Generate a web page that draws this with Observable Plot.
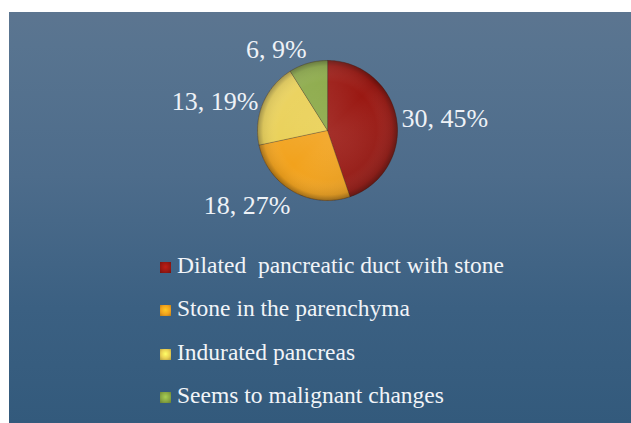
<!DOCTYPE html>
<html><head><meta charset="utf-8">
<script src="https://cdn.jsdelivr.net/npm/d3@7"></script>
<script src="https://cdn.jsdelivr.net/npm/@observablehq/plot@0.6"></script>
<style>
html,body{margin:0;padding:0;background:#fff;width:631px;height:423px;overflow:hidden}
#panel{position:absolute;left:9px;top:12px;width:622px;height:411px;
  background:linear-gradient(#5c7590 0%, #587490 8%, #4d6c8b 40%, #3b6082 72%, #335a7c 100%);}
#chart{position:absolute;left:0;top:0}
#legend{position:absolute;left:160px;top:244px;font-family:"Liberation Serif","Times New Roman",Times,"DejaVu Serif",serif;font-size:23.5px;line-height:43.3px;color:#f1f4f8;white-space:pre}
.sw{display:inline-block;width:11px;height:11px;margin-right:6px}
</style></head><body>
<div id="panel"></div>
<svg width="0" height="0" style="position:absolute">
  <defs>
    <radialGradient id="shade" cx="50%" cy="50%" r="50%">
      <stop offset="0%" stop-color="#fff" stop-opacity="0.10"/>
      <stop offset="70%" stop-color="#fff" stop-opacity="0"/>
      <stop offset="92%" stop-color="#000" stop-opacity="0.08"/>
      <stop offset="100%" stop-color="#000" stop-opacity="0.35"/>
    </radialGradient>
    <linearGradient id="light" x1="0" y1="0" x2="1" y2="1">
      <stop offset="0%" stop-color="#fff" stop-opacity="0.18"/>
      <stop offset="50%" stop-color="#fff" stop-opacity="0"/>
      <stop offset="100%" stop-color="#000" stop-opacity="0.18"/>
    </linearGradient>
  </defs>
</svg>
<div id="chart"></div>
<div id="legend"></div>
<script>
const categories = ["Dilated  pancreatic duct with stone", "Stone in the parenchyma", "Indurated pancreas", "Seems to malignant changes"];
const counts = [30, 18, 13, 6];
const percents = [45, 27, 19, 9];
const colors = ["#9a1812", "#f2a21c", "#e9cf52", "#88a743"];

const W = 631, H = 240, R = 70, cx = 327, cy = 130;
const serif = `"Liberation Serif","Times New Roman",Times,"DejaVu Serif",serif`;

// slice geometry from the data (clockwise from 12 o'clock)
const arcs = d3.pie().sort(null).value(d => d)(counts);
const pts = [];
arcs.forEach((a, i) => {
  const cat = categories[i];
  pts.push({cat, x: 0, y: 0});
  const n = Math.max(2, Math.ceil((a.endAngle - a.startAngle) / 0.02));
  for (let k = 0; k <= n; k++) {
    const t = a.startAngle + (a.endAngle - a.startAngle) * k / n;
    pts.push({cat, x: Math.sin(t), y: Math.cos(t)});
  }
});

// labels: nearest corner of the label touches a point just outside the rim
const gap = 75 / R;
const labels = arcs.map((a, i) => {
  const m = (a.startAngle + a.endAngle) / 2;
  const s = Math.sin(m), c = Math.cos(m);
  return {
    x: s * gap, y: c * gap,
    text: `${counts[i]}, ${percents[i]}%`,
    ta: Math.abs(s) < 0.2 ? "middle" : (s > 0 ? "start" : "end"),
    la: Math.abs(c) < 0.5 ? "middle" : (c > 0 ? "bottom" : "top")
  };
});

const chart = Plot.plot({
  width: W, height: H, margin: 0,
  x: {domain: [-cx / R, (W - cx) / R], axis: null},
  y: {domain: [-(H - cy) / R, cy / R], axis: null},
  color: {domain: categories, range: colors},
  style: {background: "transparent", overflow: "visible"},
  marks: [
    Plot.line(pts, {x: "x", y: "y", z: "cat", fill: "cat", stroke: "#3b1606", strokeOpacity: 0.35, strokeWidth: 1, curve: "linear-closed"}),
    Plot.dot([{x: 0, y: 0}], {x: "x", y: "y", r: R, fill: "url(#shade)", stroke: "none"}),
    Plot.dot([{x: 0, y: 0}], {x: "x", y: "y", r: R, fill: "url(#light)", stroke: "none"}),
    ...labels.map(l => Plot.text([l], {x: "x", y: "y", text: "text", textAnchor: l.ta, lineAnchor: l.la,
      fontFamily: serif, fontSize: 26, fill: "#eef2f7"}))
  ]
});
document.getElementById("chart").appendChild(chart);

const legend = document.getElementById("legend");
categories.forEach((c, i) => {
  const row = document.createElement("div");
  const sw = document.createElement("span");
  sw.className = "sw";
  sw.style.background = `radial-gradient(circle at 50% 45%, ${d3.color(colors[i]).brighter(0.6)} 0%, ${colors[i]} 55%, ${d3.color(colors[i]).darker(0.8)} 100%)`;
  row.appendChild(sw);
  row.appendChild(document.createTextNode(c));
  legend.appendChild(row);
});
</script>
</body></html>
